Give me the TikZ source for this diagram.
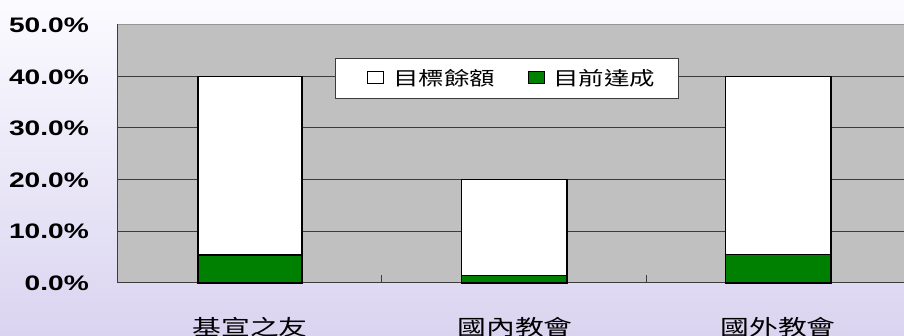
\documentclass[tikz,border=0pt]{standalone}
\usepackage{fontspec}
\newfontfamily\numfont{Liberation Sans}[FakeStretch=1.34]
\newfontfamily\cjk{Noto Sans CJK TC}[FakeStretch=1.34]
\definecolor{plotgray}{RGB}{192,192,192}
\definecolor{gridc}{RGB}{60,60,60}
\definecolor{bordergray}{RGB}{150,150,150}
\definecolor{bargreen}{RGB}{0,128,0}
\definecolor{bgtop}{RGB}{251,251,255}
\definecolor{bgbot}{RGB}{218,212,240}
\tikzset{
  gridline/.style={draw=gridc, line width=1pt},
  barbox/.style={draw=black, line width=1.3pt},
  axislabel/.style={anchor=east, inner sep=0pt, font=\numfont\bfseries\fontsize{21}{21}\selectfont},
  catlabel/.style={inner sep=0pt, font=\cjk\fontsize{21.5}{21.5}\selectfont},
  legtext/.style={anchor=west, inner sep=0pt, font=\cjk\fontsize{19}{19}\selectfont},
  legkey/.style={draw=black, line width=1pt}
}
\begin{document}
\begin{tikzpicture}[x=1pt,y=-1pt]
\useasboundingbox (0,0) rectangle (904,336);
\shade[top color=bgtop,bottom color=bgbot] (0,0) rectangle (904,336);
% plot area
\fill[plotgray] (117,24.5) rectangle (904,283);
\foreach \yy in {76.2,127.9,179.6,231.3}{
  \draw[gridline] (117,\yy) -- (904,\yy);
}
\draw[bordergray, line width=1.6pt] (117,24.5) -- (904,24.5);
\draw[gridc, line width=1pt] (117,24.5) -- (117,283) -- (904,283);
% ticks
\draw[gridc, line width=0.8pt] (381.7,283) -- (381.7,275);
\draw[gridc, line width=0.8pt] (646.7,283) -- (646.7,275);
% bars
\draw[barbox, fill=white] (198,76.2) rectangle (302,283);
\draw[barbox, fill=bargreen] (198,255) rectangle (302,283);
\draw[barbox, fill=white] (461.7,179.6) rectangle (567,283);
\draw[barbox, fill=bargreen] (461.7,275.7) rectangle (567,283);
\draw[barbox, fill=white] (725.7,76.2) rectangle (831,283);
\draw[barbox, fill=bargreen] (725.7,254.3) rectangle (831,283);
% axis labels
\node[axislabel] (y50) at (89,25.5) {50.0\%};
\node[axislabel] (y40) at (89,77) {40.0\%};
\node[axislabel] (y30) at (89,128.5) {30.0\%};
\node[axislabel] (y20) at (89,180) {20.0\%};
\node[axislabel] (y10) at (89,231.5) {10.0\%};
\node[axislabel] (y0) at (89,283) {0.0\%};
% category labels
\node[catlabel] (c1) at (250,327) {基宣之友};
\node[catlabel] (c2) at (515,327) {國內教會};
\node[catlabel] (c3) at (778,327) {國外教會};
% legend
\node[draw=gridc, line width=0.8pt, fill=white, minimum width=343pt, minimum height=40pt, inner sep=0pt] (legend) at (507.3,78.3) {};
\draw[legkey, fill=white] (367,72) rectangle (383,84);
\node[legtext] (l1) at (393,78.5) {目標餘額};
\draw[legkey, fill=bargreen] (528,72) rectangle (544,84);
\node[legtext] (l2) at (553,78.5) {目前達成};
\end{tikzpicture}
\end{document}
